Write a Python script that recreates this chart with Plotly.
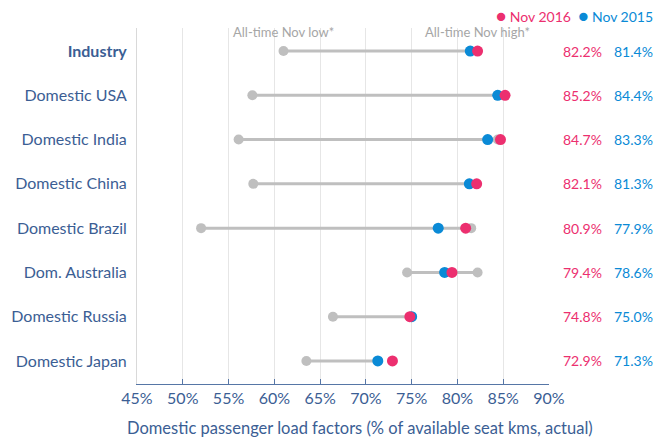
import plotly.graph_objects as go

categories = ["Industry", "Domestic USA", "Domestic India", "Domestic China",
              "Domestic Brazil", "Dom. Australia", "Domestic Russia", "Domestic Japan"]
nov2016 = [82.2, 85.2, 84.7, 82.1, 80.9, 79.4, 74.8, 72.9]
nov2015 = [81.4, 84.4, 83.3, 81.3, 77.9, 78.6, 75.0, 71.3]
alltime_low = [61.0, 57.6, 56.1, 57.7, 52.0, 74.5, 66.4, 63.5]
alltime_high = [81.4, 84.4, 84.4, 81.3, 81.5, 82.2, 75.0, 71.3]
x_ticks = [45, 50, 55, 60, 65, 70, 75, 80, 85, 90]
x_ticklabels = [f"{t}%" for t in x_ticks]

PINK = "#EC2F6F"
BLUE = "#0A8AD6"
GRAY = "#BFBFBF"
TXT = "#3B5E94"
FONT = "Lato"

rows = list(range(len(categories)))

lx, ly = [], []
for i in rows:
    lx += [alltime_low[i], alltime_high[i], None]
    ly += [i, i, None]

fig = go.Figure()
fig.add_trace(go.Scatter(x=lx, y=ly, mode="lines", line=dict(color=GRAY, width=3),
                         hoverinfo="skip", showlegend=False))
fig.add_trace(go.Scatter(x=alltime_low + alltime_high, y=rows + rows, mode="markers",
                         marker=dict(color=GRAY, size=10), showlegend=False))
fig.add_trace(go.Scatter(x=nov2015, y=rows, mode="markers", name="Nov 2015",
                         marker=dict(color=BLUE, size=11), showlegend=False))
fig.add_trace(go.Scatter(x=nov2016, y=rows, mode="markers", name="Nov 2016",
                         marker=dict(color=PINK, size=11), showlegend=False))

ann = []
for i in rows:
    ann.append(dict(xref="paper", yref="y", x=1.0825, y=i, xanchor="center",
                    text=f"{nov2016[i]:.1f}%",
                    showarrow=False, font=dict(color=PINK, size=14, family=FONT)))
    ann.append(dict(xref="paper", yref="y", x=1.206, y=i, xanchor="center",
                    text=f"{nov2015[i]:.1f}%",
                    showarrow=False, font=dict(color=BLUE, size=14, family=FONT)))

ann.append(dict(xref="x", yref="y", x=alltime_low[0], y=0, yshift=19, text="All-time Nov low*",
                xanchor="center",
                showarrow=False, font=dict(color="#A6A6A6", size=13, family=FONT)))
ann.append(dict(xref="x", yref="y", x=nov2016[0], y=0, yshift=19, text="All-time Nov high*",
                xanchor="center",
                showarrow=False, font=dict(color="#A6A6A6", size=13, family=FONT)))
ann.append(dict(xref="paper", yref="paper", x=1.257, y=1.034, xanchor="right", yanchor="middle",
                text=(f"<span style='color:{PINK};font-size:17px'>●</span> "
                      f"<span style='color:{PINK}'>Nov 2016</span>&nbsp; "
                      f"<span style='color:{BLUE};font-size:17px'>●</span> "
                      f"<span style='color:{BLUE}'>Nov 2015</span>"),
                showarrow=False, font=dict(size=14, family=FONT)))
ann.append(dict(xref="paper", yref="paper", x=0.541, y=-0.124, xanchor="center", yanchor="middle",
                text="Domestic passenger load factors (% of available seat kms, actual)",
                showarrow=False, font=dict(color=TXT, size=16.5, family=FONT)))

ticktext = ["<b>Industry</b>"] + categories[1:]

fig.update_layout(
    width=667, height=438,
    margin=dict(l=137, r=118, t=28, b=54, autoexpand=False),
    paper_bgcolor="white", plot_bgcolor="white",
    font=dict(family=FONT, color=TXT),
    annotations=ann,
    xaxis=dict(range=[45, 90], tickvals=x_ticks, ticktext=x_ticklabels, automargin=False,
               showgrid=True, gridcolor="#E6E6E6", gridwidth=1, zeroline=False,
               showline=True, linecolor="#5676A6", linewidth=1,
               ticks="inside", ticklen=5, tickcolor="#5676A6",
               tickfont=dict(size=16, color=TXT, family=FONT)),
    yaxis=dict(range=[7.52, -0.52], tickvals=rows, ticktext=ticktext, automargin=False,
               showgrid=False, zeroline=False, showline=True, linecolor="#D9D9D9",
               ticks="", ticklabelstandoff=6,
               tickfont=dict(size=16, color=TXT, family=FONT)),
)

fig.write_html("out.html", config={"displayModeBar": False},
               post_script="document.body.style.margin='0';document.body.style.overflow='hidden';")
